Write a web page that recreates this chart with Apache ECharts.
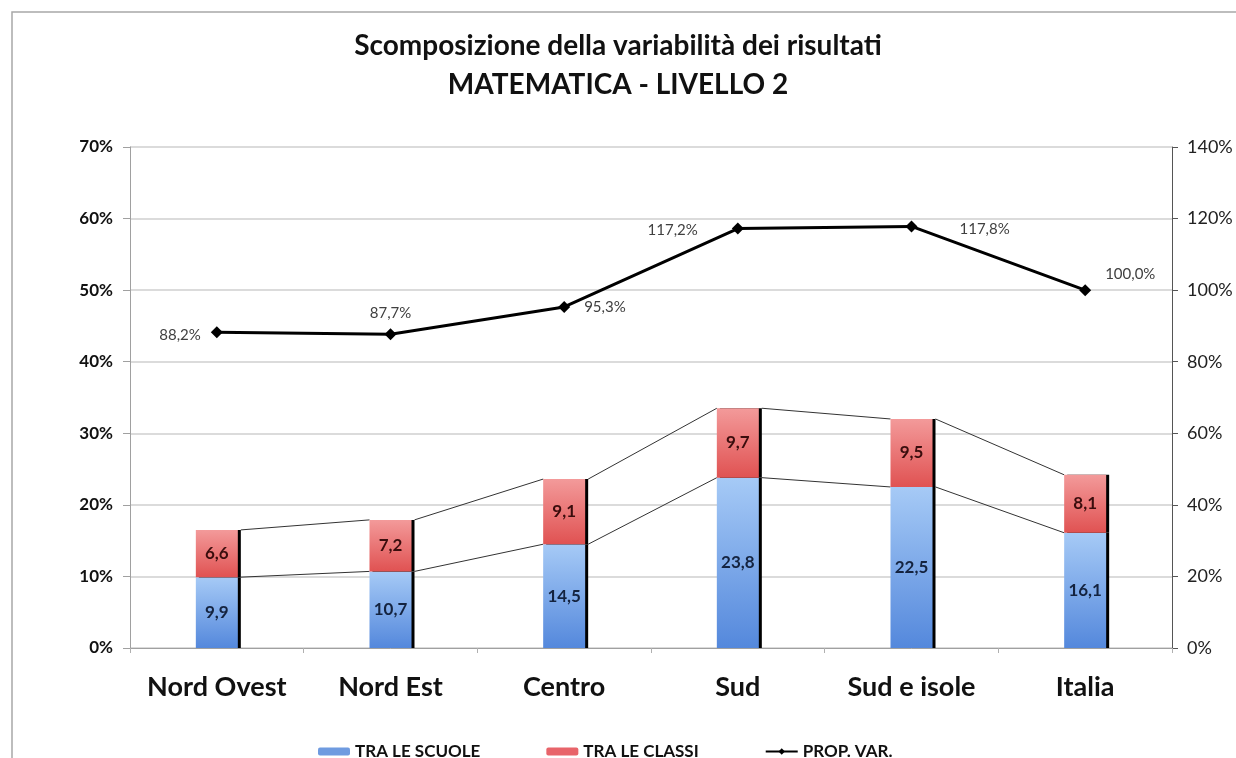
<!DOCTYPE html>
<html>
<head>
<meta charset="utf-8">
<script src="https://cdn.jsdelivr.net/npm/echarts@6/dist/echarts.min.js"></script>
<style>
  html, body { margin: 0; padding: 0; background: #fff; }
  #main { width: 1236px; height: 758px; }
</style>
</head>
<body>
<div id="main"></div>
<script>
// dati
var categorie = ['Nord Ovest', 'Nord Est', 'Centro', 'Sud', 'Sud e isole', 'Italia'];
var traLeScuole = [9.9, 10.7, 14.5, 23.8, 22.5, 16.1];
var traLeClassi = [6.6, 7.2, 9.1, 9.7, 9.5, 8.1];
var propVar = [88.2, 87.7, 95.3, 117.2, 117.8, 100.0];
var posEtichette = ['left', 'top', 'right', 'left', 'right', 'right'];
var distEtichette = [10, 8, 14, 34, 42, 14];
var offEtichette = [[0, 3], [0, 0], [0, 0], [0, 2], [0, 3], [0, -16]];

var barW = 42;
var totali = traLeScuole.map(function(v, i) { return +(v + traLeClassi[i]).toFixed(1); });

function virgola(v) { return v.toFixed(1).replace('.', ','); }

// linee di collegamento tra le colonne (come in Excel)
function lineeSerie(vals) {
    return {
        type: 'custom',
        silent: true,
        z: 1,
        data: vals.slice(0, -1).map(function(v, i) { return [i, v, vals[i + 1]]; }),
        renderItem: function(params, api) {
            var p1 = api.coord([api.value(0), api.value(1)]);
            var p2 = api.coord([api.value(0) + 1, api.value(2)]);
            return {
                type: 'line',
                shape: { x1: p1[0] + barW / 2 + 3, y1: p1[1], x2: p2[0] - barW / 2, y2: p2[1] },
                style: { stroke: '#333', lineWidth: 1 }
            };
        }
    };
}

var blu = new echarts.graphic.LinearGradient(0, 0, 0, 1, [
    { offset: 0, color: '#a6caf6' }, { offset: 1, color: '#5488dc' }
]);
var rosso = new echarts.graphic.LinearGradient(0, 0, 0, 1, [
    { offset: 0, color: '#f39a9a' }, { offset: 1, color: '#e05252' }
]);

var myChart = echarts.init(document.getElementById('main'));

var option = {
    backgroundColor: '#fff',
    textStyle: { fontFamily: 'Lato' },
    graphic: [{
        type: 'rect',
        shape: { x: 12, y: 12, width: 1400, height: 900 },
        style: { fill: 'none', stroke: '#a8a8a8', lineWidth: 1.5 },
        silent: true
    }],
    title: {
        text: 'Scomposizione della variabilità dei risultati\nMATEMATICA - LIVELLO 2',
        left: 'center',
        top: 21,
        textStyle: { fontFamily: 'Lato', fontSize: 28, fontWeight: 'bold', color: '#111', lineHeight: 39 }
    },
    legend: {
        left: 313,
        top: 738,
        itemGap: 66,
        itemWidth: 32,
        itemHeight: 8,
        textStyle: { fontFamily: 'Lato', fontSize: 17, fontWeight: 'bold', color: '#111' },
        data: [
            { name: 'TRA LE SCUOLE', itemStyle: { color: '#6f9be0', shadowColor: 'transparent' } },
            { name: 'TRA LE CLASSI', itemStyle: { color: '#e8646a', shadowColor: 'transparent' } },
            { name: 'PROP. VAR.' }
        ]
    },
    grid: { left: 130, right: 64, top: 147, bottom: 110 },
    xAxis: {
        type: 'category',
        data: categorie,
        axisLine: { lineStyle: { color: '#a0a0a0' } },
        axisTick: { show: true, length: 5, lineStyle: { color: '#b0b0b0' } },
        axisLabel: { interval: 0, fontFamily: 'Lato', fontSize: 27, fontWeight: 'bold', color: '#111', margin: 26 }
    },
    yAxis: [{
        type: 'value',
        min: 0, max: 70, interval: 10,
        axisLine: { show: true, lineStyle: { color: '#a0a0a0' } },
        axisTick: { show: true, length: 7, lineStyle: { color: '#a0a0a0' } },
        axisLabel: { formatter: '{value}%', fontFamily: 'Lato', fontSize: 17, fontWeight: 'bold', color: '#111', margin: 17 },
        splitLine: { lineStyle: { color: '#cfcfcf', width: 1.5 } }
    }, {
        type: 'value',
        min: 0, max: 140, interval: 20,
        position: 'right',
        axisLine: { show: true, lineStyle: { color: '#555' } },
        axisTick: { show: true, length: 6, lineStyle: { color: '#555' } },
        axisLabel: { formatter: '{value}%', fontFamily: 'Lato', fontSize: 18, color: '#222', margin: 15 },
        splitLine: { show: false }
    }],
    series: [{
        name: 'TRA LE SCUOLE',
        type: 'bar',
        stack: 'var',
        barWidth: barW,
        z: 3,
        data: traLeScuole,
        itemStyle: { color: blu, shadowColor: '#000', shadowOffsetX: 3, shadowBlur: 0 },
        label: {
            show: true, position: 'inside',
            fontFamily: 'Lato', fontSize: 17, fontWeight: 'bold', color: '#14233f',
            formatter: function(p) { return virgola(p.value); }
        }
    }, {
        name: 'TRA LE CLASSI',
        type: 'bar',
        stack: 'var',
        barWidth: barW,
        z: 3,
        data: traLeClassi,
        itemStyle: { color: rosso, shadowColor: '#000', shadowOffsetX: 3, shadowBlur: 0 },
        label: {
            show: true, position: 'inside',
            fontFamily: 'Lato', fontSize: 17, fontWeight: 'bold', color: '#3a0d0d',
            formatter: function(p) { return virgola(p.value); }
        }
    },
    lineeSerie(traLeScuole),
    lineeSerie(totali),
    {
        name: 'PROP. VAR.',
        type: 'line',
        yAxisIndex: 1,
        z: 5,
        symbol: 'diamond',
        symbolSize: 12,
        lineStyle: { color: '#000', width: 3 },
        itemStyle: { color: '#000' },
        data: propVar.map(function(v, i) {
            return { value: v, label: { position: posEtichette[i], distance: distEtichette[i], offset: offEtichette[i] } };
        }),
        label: {
            show: true,
            fontFamily: 'Lato', fontSize: 15, color: '#404040',
            formatter: function(p) { return virgola(p.value) + '%'; }
        }
    }]
};

myChart.setOption(option);
</script>
</body>
</html>
